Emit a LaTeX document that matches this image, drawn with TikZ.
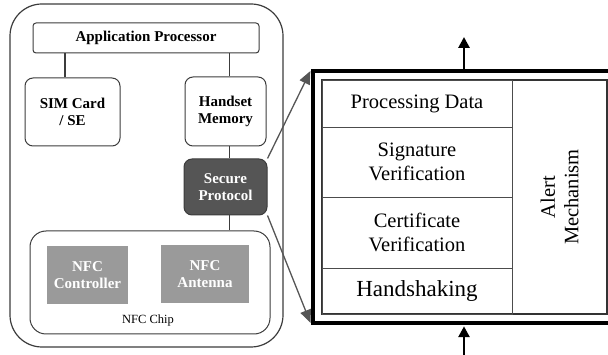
\documentclass[tikz,border=0pt]{standalone}
\usepackage{fontspec}
\setmainfont{Liberation Serif}
\usetikzlibrary{arrows.meta}
\definecolor{boxline}{HTML}{3C3C3C}
\definecolor{secfill}{HTML}{555555}
\definecolor{nfcfill}{HTML}{9A9A9A}

\begin{document}
\begin{tikzpicture}[x=1pt,y=-1pt,
	part/.style={draw=boxline,line width=1pt,rounded corners=8pt,align=center,
		font=\fontsize{15}{17}\selectfont\bfseries},
	darkpart/.style={part,fill=secfill,text=white},
	nfcpart/.style={fill=nfcfill,text=white,align=center,
		font=\fontsize{15}{17}\selectfont\bfseries},
	layer/.style={draw=black!70,line width=0.9pt,align=center,inner sep=0pt,
		minimum width=190pt,font=\fontsize{20.5}{23.5}\selectfont},
	link/.style={draw=boxline,line width=1.2pt},
	flow/.style={-{Triangle[length=11pt,width=11pt]},line width=2.8pt},
	zoomarrow/.style={-{Triangle[length=13pt,width=11pt]},draw=secfill,line width=1.3pt}]
	\useasboundingbox (0,0) rectangle (608,355);
	% phone side
	\node[draw=boxline,line width=1.2pt,rounded corners=32pt,
		minimum width=273pt,minimum height=343pt] (phone) at (146.5,175.5) {};
	\node[part,rounded corners=3pt,minimum width=226pt,minimum height=30pt] (ap) at (146,38) {Application Processor};
	\node[part,minimum width=95pt,minimum height=68pt] (sim) at (72.5,112) {SIM Card\\/ SE};
	\node[part,minimum width=81pt,minimum height=69pt] (mem) at (225.5,111.5) {Handset\\Memory};
	\node[darkpart,minimum width=83pt,minimum height=56pt] (sec) at (225.5,187) {Secure\\Protocol};
	\node[part,rounded corners=16pt,minimum width=240pt,minimum height=103pt] (chip) at (150,282.5) {};
	\node[nfcpart,minimum width=81pt,minimum height=58pt] (ctrl) at (87.5,275) {NFC\\Controller};
	\node[nfcpart,minimum width=88pt,minimum height=58pt] (ant) at (205,274) {NFC\\Antenna};
	\node[font=\fontsize{12.5}{14}\selectfont] (chiplabel) at (148,320) {NFC Chip};
	\path[link]
		([xshift=-7.5pt]sim.north) edge ([xshift=-7.5pt]sim.north |- ap.south)
		([xshift=4pt]mem.north) edge ([xshift=4pt]mem.north |- ap.south)
		([xshift=4pt]mem.south) edge ([xshift=4pt]mem.south |- sec.north)
		([xshift=4pt]sec.south) edge ([xshift=4pt]sec.south |- chip.north);
	% protocol stack
	\node[draw,line width=3.5pt,minimum width=317pt,minimum height=252pt] (outer) at (471.5,197) {};
	\node[draw=black!80,line width=1.3pt,minimum width=285pt,minimum height=234pt] (inner) at (464.5,197) {};
	\node[layer,minimum height=47pt] (pd) at (417,103.5) {Processing Data};
	\node[layer,minimum height=70pt] (sig) at (417,162) {Signature\\Verification};
	\node[layer,minimum height=71pt] (cert) at (417,232.5) {Certificate\\Verification};
	\node[layer,minimum height=46pt,font=\fontsize{23}{25}\selectfont] (hs) at (417,291) {Handshaking};
	\node[rotate=90,align=center,font=\fontsize{20.5}{23.5}\selectfont] (alert) at (559.5,197) {Alert\\Mechanism};
	\draw[zoomarrow,shorten >=2pt] (sec.north east) -- (outer.north west);
	\draw[zoomarrow,shorten >=2pt] (sec.south east) -- (outer.south west);
	\coordinate (outtip) at (464,37);
	\coordinate (inbase) at (464,356);
	\draw[flow] (outer.north -| outtip) -- (outtip);
	\draw[flow,shorten >=1.5pt] (inbase) -- (inbase |- outer.south);
\end{tikzpicture}
\end{document}
